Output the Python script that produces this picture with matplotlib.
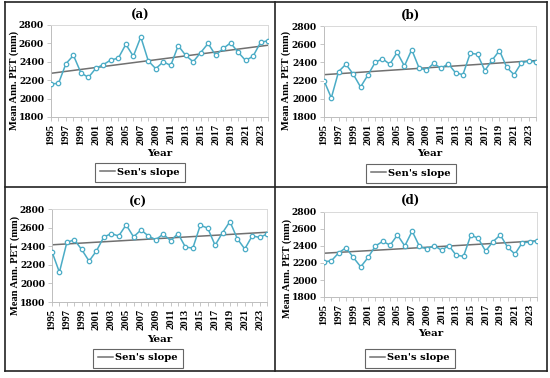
import matplotlib.pyplot as plt
from matplotlib.lines import Line2D

years = list(range(1995, 2025))

pet_a = [2160, 2165, 2380, 2470, 2280, 2230, 2330, 2370, 2420, 2440,
         2590, 2460, 2670, 2410, 2325, 2400, 2360, 2575, 2470, 2400,
         2500, 2600, 2470, 2545, 2605, 2505, 2415, 2460, 2610, 2630]
pet_b = [2200, 2010, 2300, 2380, 2270, 2130, 2260, 2400, 2440, 2380,
         2510, 2360, 2540, 2340, 2315, 2390, 2335, 2385, 2285, 2265,
         2500, 2490, 2310, 2425, 2530, 2345, 2265, 2395, 2415, 2405]
pet_c = [2340, 2120, 2440, 2470, 2365, 2240, 2350, 2500, 2535, 2510,
         2630, 2500, 2575, 2510, 2470, 2530, 2460, 2535, 2390, 2380,
         2625, 2595, 2410, 2545, 2665, 2480, 2370, 2510, 2495, 2530]
pet_d = [2215, 2225, 2320, 2380, 2265, 2155, 2265, 2400, 2455, 2410,
         2530, 2400, 2575, 2395, 2365, 2405, 2350, 2405, 2290, 2280,
         2530, 2490, 2340, 2450, 2530, 2385, 2305, 2440, 2445, 2460]

# Sen's slope line: value at first and last year
sen_a = [2275, 2580]
sen_b = [2265, 2420]
sen_c = [2415, 2550]
sen_d = [2315, 2460]

titles = ["(a)", "(b)", "(c)", "(d)"]
series = [pet_a, pet_b, pet_c, pet_d]
sens = [sen_a, sen_b, sen_c, sen_d]

W, H = 550, 378
WIDE = ['DejaVu Serif']          # horizontal text looks stretched in the original
NARROW = ['Liberation Serif', 'DejaVu Serif']

fig = plt.figure(figsize=(W / 100, H / 100), dpi=100)

def px_axes(x0, y0, x1, y1):
    return fig.add_axes([x0 / W, 1 - y1 / H, (x1 - x0) / W, (y1 - y0) / H])

# plot areas in pixels (left, top, right, bottom)
boxes = [(51, 25, 268, 117), (324, 26, 536, 117),
         (52, 209, 267, 302), (324, 212, 537, 297)]
# panel centre x, title y, legend y, year-label top y, ylabel centre y / right x
panel_cx = [140, 411, 138, 410]
title_y = [15, 15, 202, 200]
legend_y = [172.5, 173, 358, 358]
year_top = [149, 149, 335, 329]
ylab_cy = [80, 80, 265, 268]
ylab_rx = [19, 291, 20, 292]

teal = '#4BACC6'
grey = '#707070'

for i in range(4):
    x0, y0, x1, y1 = boxes[i]
    ax = px_axes(x0, y0, x1, y1)
    ax.plot(years, series[i], color=teal, lw=1.1, marker='o', ms=3.2,
            mfc='white', mec=teal, mew=0.9, zorder=3)
    ax.plot([years[0], years[-1]], sens[i], color=grey, lw=1.1, zorder=2)
    ax.set_xlim(years[0], years[-1])
    ax.set_ylim(1800, 2800)
    ax.set_yticks(range(1800, 2801, 200))
    ax.set_xticks(years)
    ax.set_xticklabels([str(y) if (y - 1995) % 2 == 0 else '' for y in years],
                       rotation=90, family=NARROW, fontweight='bold', fontsize=7.6)
    ax.set_yticklabels([str(v) for v in range(1800, 2801, 200)],
                       family=WIDE, fontweight='bold', fontsize=6.6)
    ax.tick_params(length=3, width=0.6, color='#bdbdbd', pad=2)
    for sp in ax.spines.values():
        sp.set_color('#d9d9d9')
        sp.set_linewidth(0.7)
    ax.spines['left'].set_color('#bdbdbd')
    ax.spines['bottom'].set_color('#bdbdbd')

    ax.set_ylabel('Mean Ann. PET (mm)', family=NARROW, fontsize=7.6, fontweight='bold')
    ax.yaxis.set_label_coords((ylab_rx[i] - x0) / (x1 - x0),
                              (y1 - ylab_cy[i]) / (y1 - y0))
    ax.set_xlabel('Year', family=WIDE, fontsize=7.5, fontweight='bold')
    ax.xaxis.set_label_coords(0.5, (y1 - year_top[i]) / (y1 - y0))

    fig.text(panel_cx[i] / W, 1 - title_y[i] / H, titles[i], ha='center',
             va='center', family=WIDE, fontsize=8.5, fontweight='bold')

    leg = fig.legend(handles=[Line2D([], [], color=grey, lw=1.1)],
                     labels=["Sen's slope"], loc='center',
                     bbox_to_anchor=(panel_cx[i] / W, 1 - legend_y[i] / H),
                     prop={'family': WIDE, 'weight': 'bold', 'size': 7.2},
                     frameon=True, fancybox=False,
                     handlelength=1.5, handletextpad=0.2, borderpad=0.5,
                     borderaxespad=0)
    leg.get_frame().set_edgecolor('#404040')
    leg.get_frame().set_linewidth(0.8)

# panel borders
def hline(y, xa, xb):
    fig.add_artist(Line2D([xa / W, xb / W], [1 - y / H, 1 - y / H],
                          color='#222222', lw=1.2))

def vline(x, ya, yb):
    fig.add_artist(Line2D([x / W, x / W], [1 - ya / H, 1 - yb / H],
                          color='#222222', lw=1.2))

hline(1.5, 5, 547)
hline(187, 5, 547)
hline(371, 5, 547)
vline(5, 1.5, 371)
vline(275, 1.5, 371)
vline(547, 1.5, 371)

fig.savefig('out.png', dpi=100)
